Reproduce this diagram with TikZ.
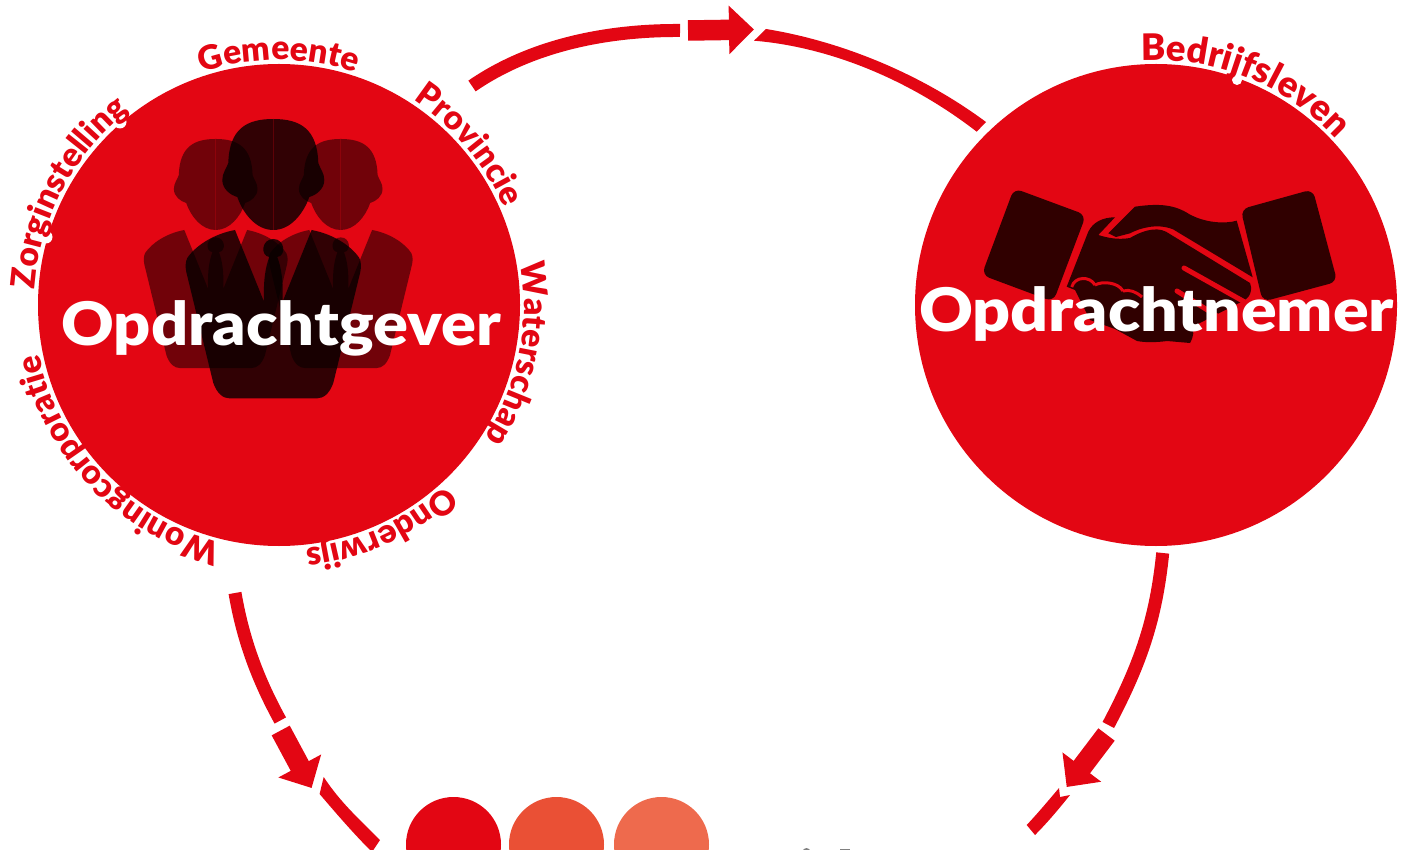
\documentclass[tikz,border=0pt]{standalone}
\usepackage{fontspec}
\setmainfont{Lato}
\newfontfamily\heavyfont{Lato Black}
\usetikzlibrary{decorations.text,arrows.meta}
\definecolor{brand}{HTML}{E30613}
\definecolor{brandb}{HTML}{EA5035}
\definecolor{brandc}{HTML}{EE6A4D}
\definecolor{shake}{HTML}{300000}
\newcommand\arclabel[6]{% centre, radius, text, mid angle, half span, size
  \path[decorate,decoration={text along path,text align=center,text={|\fontsize{#6}{#6}\heavyfont\color{brand}|#3}}]
    (#1) ++(#4+#5:#2) arc[start angle=#4+#5,end angle=#4-#5,radius=#2];}
\tikzset{
  x=1pt,y=1pt,
  disc/.style={circle,fill=brand,inner sep=0pt,minimum size=482pt},
  spot/.style={circle,inner sep=0pt,minimum size=95pt},
  bigtext/.style={text=white,font=\fontsize{60}{60}\heavyfont,anchor=base,inner sep=0pt},
  conn/.style={draw=brand,line width=13pt},
  arrowconn/.style={draw=brand,line width=20.5pt,-{Triangle[length=25pt,width=47pt]},shorten >=0pt},
  halo/.style={fill=white},
  person/.pic={
    \fill[fill opacity=\tikzpicturepersonop]
      (0,111) .. controls (27,111) and (44,101) .. (45,67)
      .. controls (47,61) and (51,57) .. (51,50)
      .. controls (51,41) and (43,35) .. (36,33)
      .. controls (30,16) and (17,0) .. (0,0)
      .. controls (-17,0) and (-30,16) .. (-36,33)
      .. controls (-43,35) and (-51,41) .. (-51,50)
      .. controls (-51,57) and (-47,61) .. (-45,67)
      .. controls (-44,101) and (-27,111) .. (0,111) -- cycle;
    \fill[fill opacity=\tikzpicturepersonop]
      (-38.3,0) -- (-9.3,-71.7)
      .. controls (-10,-50) and (-8,-38) .. (-4,-27)
      .. controls (-13,-26) and (-12,-9) .. (0,-9)
      .. controls (12,-9) and (13,-26) .. (4,-27)
      .. controls (8,-38) and (10,-50) .. (9.3,-71.7)
      -- (38.3,0)
      .. controls (60,-4) and (78,-16) .. (86,-28)
      .. controls (88,-32) and (88,-37) .. (87,-42)
      -- (60,-153)
      .. controls (56,-164) and (50,-168.3) .. (44,-168.3)
      -- (-44,-168.3)
      .. controls (-50,-168.3) and (-56,-164) .. (-60,-153)
      -- (-87,-42)
      .. controls (-88,-37) and (-88,-32) .. (-86,-28)
      .. controls (-78,-16) and (-60,-4) .. (-38.3,0) -- cycle;
    \draw[brand,opacity=.25,line width=.6pt] (0,0) -- (0,111);
  }
}
\newcommand\tikzpicturepersonop{.5}
\begin{document}
\begin{tikzpicture}
\clip (0,0) rectangle (1408,-850);
% discs
\node[disc] (gever) at (279,-305) {};
\node[disc] (nemer) at (1156,-305) {};
\coordinate (gc) at (279,-305);
\coordinate (nc) at (1156,-305);
% bottom row
\node[spot,fill=brand]  (s1) at (453.5,-844.5) {};
\node[spot,fill=brandb] (s2) at (556.5,-844.5) {};
\node[spot,fill=brandc] (s3) at (661.5,-844.5) {};
\fill[black!50] (806.5,-852) circle[radius=4];
\fill[black!50] (840,-848.6) rectangle (850,-851);
% people
\pic[scale=.82] at (215.7,-230) {person};
\pic[scale=.82] at (340.7,-230) {person};
\renewcommand\tikzpicturepersonop{.78}
\pic at (273.3,-230) {person};
% handshake
\fill[shake,rounded corners=8pt] (1014,-188.3) -- (1086,-215) -- (1053.3,-301.7) -- (981.7,-275) -- cycle;
\fill[shake,rounded corners=8pt] (1240.7,-209.3) -- (1312.7,-189.3) -- (1337.3,-281.7) -- (1262.7,-301.7) -- cycle;
% upper hand
\fill[shake] (1108.3,-233.3) -- (1135,-206.7)
  .. controls (1160,-203) and (1175,-205) .. (1189,-214)
  .. controls (1205,-223) and (1225,-224) .. (1236.7,-220.7)
  -- (1252.7,-277.3) -- (1173,-229.3)
  .. controls (1157,-223) and (1140,-228) .. (1130,-233.3)
  -- (1116,-237) -- cycle;
% lower hand
\fill[shake] (1115,-217.3) .. controls (1103,-217.3) and (1093,-222) .. (1088.3,-231.7)
  -- (1066.7,-286.7)
  -- (1075,-290) -- (1090,-320) -- (1115,-329)
  -- (1137,-341) .. controls (1147,-343) and (1160,-342) .. (1167,-341)
  -- (1190,-343) .. controls (1194,-336) and (1194,-330) .. (1192,-327)
  -- (1243,-301)
  .. controls (1252,-297) and (1252,-287) .. (1250,-283)
  -- (1166,-231.7)
  .. controls (1155,-226) and (1140,-232) .. (1130,-238)
  .. controls (1118,-240) and (1108,-238) .. (1098.3,-235)
  -- cycle;
% fingers separators
\draw[brand,line width=5pt,line cap=round] (1184,-268) -- (1250,-305);
\draw[brand,line width=5pt,line cap=round] (1177,-291) -- (1217,-316);
\draw[brand,line width=3pt] (1071.7,-287) .. controls (1075,-276) and (1090,-276) .. (1095,-285);
\draw[brand,line width=3pt] (1095,-285) .. controls (1102,-281) and (1118,-282) .. (1123,-291);
\draw[brand,line width=3pt] (1123,-291) .. controls (1130,-289) and (1136,-292) .. (1142,-297);
% white margins where descenders cross the discs
\fill[halo] (46,-237) circle[radius=6.5];
\fill[halo] (120,-122) circle[radius=6.5];
\fill[halo] (1237,-80) circle[radius=5];
% labels
\arclabel{gc}{245}{Gemeente}{90}{45}{33.5}
\arclabel{gc}{245}{Provincie}{40}{40}{33.5}
\arclabel{gc}{245}{Waterschap}{-11.5}{40}{33.5}
\arclabel{gc}{245}{Onderwijs}{-65.5}{40}{33.5}
\arclabel{gc}{245}{Woningcorporatie}{-136}{60}{33.5}
\arclabel{gc}{245}{Zorginstelling}{152}{50}{33.5}
\arclabel{nc}{245}{Bedrijfsleven}{68}{50}{36.5}
% big text
\node[bigtext] (tg) at (281,-345) {\scalebox{1.08}[1]{Opdrachtgever}};
\node[bigtext] (tn) at (1156.5,-331) {\scalebox{1.105}[1]{Opdrachtnemer}};
% connectors
\coordinate (a1) at (472,-86);
\coordinate (a2) at (680,-30.5);
\coordinate (a3) at (688,-30.5);
\coordinate (a4) at (754,-29.5);
\draw[conn] (a1) .. controls (530,-46) and (605,-30) .. (a2);
\draw[arrowconn] (a3) -- (a4);
\fill[brand] (766,-29) .. controls (840,-41) and (920,-73) .. (986,-122)
  -- (976.7,-131.7) .. controls (910,-80) and (830,-47) .. (754,-40.7) -- cycle;
\coordinate (b1) at (235,-593);
\coordinate (b2) at (280.3,-720.5);
\coordinate (b3) at (280.7,-730.5);
\coordinate (b4) at (311.6,-788);
\draw[conn] (b1) .. controls (243,-640) and (258,-680) .. (b2);
\draw[arrowconn] (b3) -- (b4);
\fill[brand] (323.7,-777) .. controls (340,-802) and (360,-820) .. (380,-840)
  -- (372,-852) .. controls (352,-832) and (335,-812) .. (319.6,-794) -- cycle;
\coordinate (c1) at (1162.7,-553);
\coordinate (c2) at (1108.3,-725);
\coordinate (c3) at (1106.5,-734.5);
\coordinate (c4) at (1066.7,-787);
\draw[conn] (c1) .. controls (1156,-620) and (1140,-665) .. (c2);
\draw[arrowconn] (c3) -- (c4);
\fill[brand] (1059,-788) -- (1060,-797) -- (1070,-795)
  .. controls (1058,-810) and (1047,-823) .. (1035,-835)
  -- (1026.7,-825) .. controls (1038,-813) and (1048,-801) .. (1059,-788) -- cycle;
\end{tikzpicture}
\end{document}
